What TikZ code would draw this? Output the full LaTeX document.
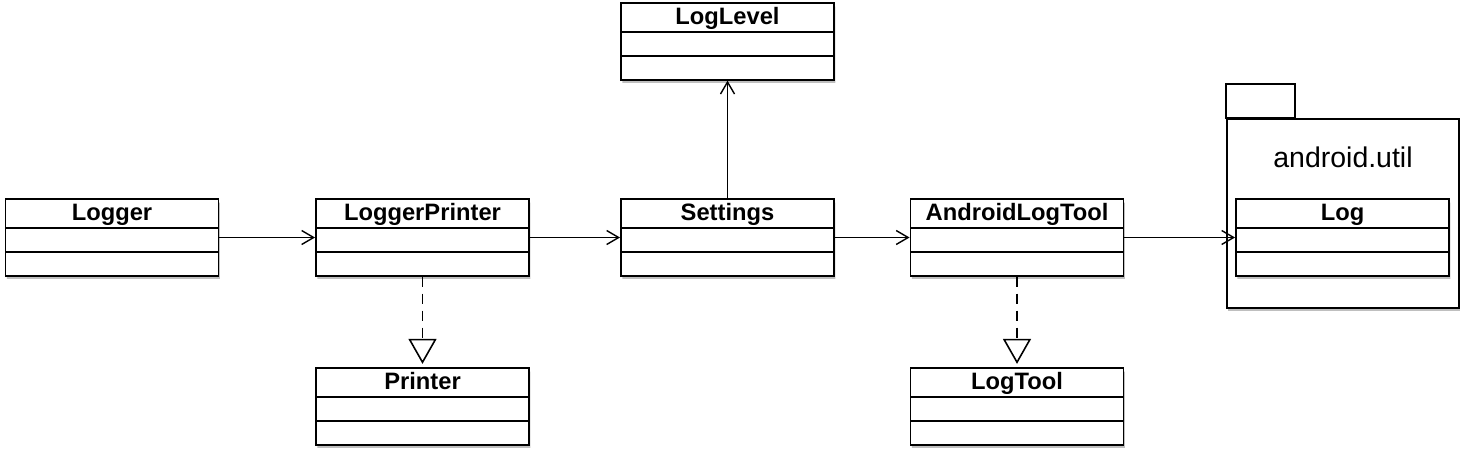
\documentclass[tikz,border=0pt]{standalone}
\usepackage{fontspec}
\setmainfont{Liberation Sans}
\usetikzlibrary{shapes.multipart,shadows,arrows.meta}

\tikzset{
    classbox/.style={rectangle split,rectangle split parts=3,draw,line width=1.1pt,fill=white,
        minimum width=4.26cm,inner xsep=0pt,inner ysep=0pt,
        drop shadow={shadow xshift=0.8pt,shadow yshift=-1.8pt,opacity=0.5},
        font=\fontsize{13.5}{16}\selectfont\bfseries},
    uses/.style={line width=0.8pt,-{Straight Barb[length=0.24cm,width=0.28cm,line width=0.8pt]}},
    realizes/.style={line width=0.8pt,dash pattern=on 0.2cm off 0.14cm,
        -{Triangle[open,length=0.5cm,width=0.56cm,line width=0.9pt,fill=white]}}
}
\newcommand{\classparts}[1]{\rule[-0.12cm]{0pt}{0.53cm}#1\nodepart{two}\rule{0pt}{0.44cm}\nodepart{three}\rule{0pt}{0.44cm}}

\begin{document}
\begin{tikzpicture}
    \useasboundingbox (0,0) rectangle (29.28,-9);
    \pgfmathsetmacro{\rowy}{-4.75}
    \pgfmathsetmacro{\pkgwidth}{4.64}
    \pgfmathsetmacro{\pkgheight}{3.78}
    % package android.util
    \node[draw,line width=1.1pt,fill=white,minimum width=\pkgwidth cm,minimum height=\pkgheight cm,inner sep=0,
        drop shadow={shadow xshift=0.8pt,shadow yshift=-1.8pt,opacity=0.5}] (util) at (26.86,-4.27) {};
    \draw[line width=1.1pt] (util.north west) rectangle ++(1.38,0.68);
    \node[font=\fontsize{16.2}{19}\selectfont] (utilname) at (26.86,-3.14) {android.util};
    % classes
    \node[classbox] (logger) at (2.24,\rowy) {\classparts{Logger}};
    \node[classbox] (printerimpl) at (8.45,\rowy) {\classparts{LoggerPrinter}};
    \node[classbox] (settings) at (14.55,\rowy) {\classparts{Settings}};
    \node[classbox] (androidtool) at (20.34,\rowy) {\classparts{AndroidLogTool}};
    \node[classbox] (loglevel) at (14.55,-0.83) {\classparts{LogLevel}};
    \node[classbox] (printer) at (8.45,-8.13) {\classparts{Printer}};
    \node[classbox] (logtool) at (20.34,-8.13) {\classparts{LogTool}};
    \node[classbox] (log) at (26.85,\rowy) {\classparts{Log}};
    % associations
    \draw[uses] (logger.east) -- (printerimpl.west);
    \draw[uses] (printerimpl.east) -- (settings.west);
    \draw[uses] (settings.east) -- (androidtool.west);
    \draw[uses] (androidtool.east) -- (log.west);
    \draw[uses] (settings.north) -- (loglevel.south);
    \draw[realizes] (printerimpl.south) -- ([yshift=2pt]printer.north);
    \draw[realizes] (androidtool.south) -- ([yshift=2pt]logtool.north);
\end{tikzpicture}
\end{document}
